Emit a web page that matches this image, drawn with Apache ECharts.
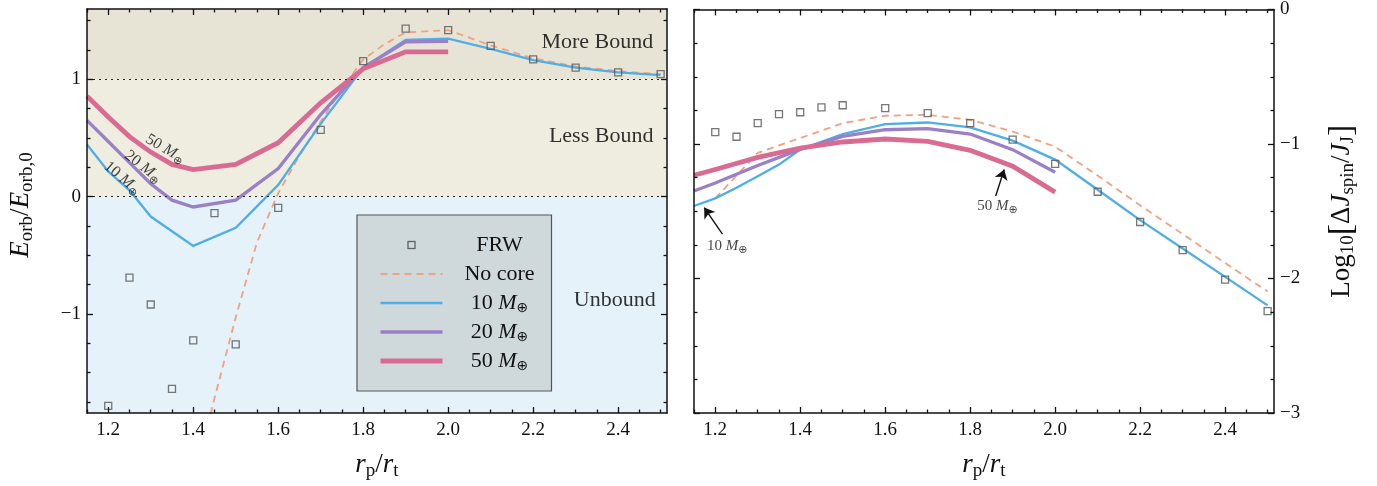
<!DOCTYPE html>
<html><head><meta charset="utf-8">
<script src="https://cdn.jsdelivr.net/npm/echarts@6/dist/echarts.min.js"></script>
<style>html,body{margin:0;padding:0;background:#fff}#c{width:1377px;height:486px}</style>
</head><body><div id="c"></div>
<script>
// ---------------- DATA ----------------
// Left panel: E_orb / E_orb,0
const frwX  = [1.2,1.25,1.3,1.35,1.4,1.45,1.5,1.6,1.7,1.8,1.9,2.0,2.1,2.2,2.3,2.4,2.5];
const frwE  = [-1.785,-0.69,-0.92,-1.64,-1.226,-0.14,-1.26,-0.096,0.57,1.155,1.433,1.42,1.286,1.17,1.10,1.06,1.045];
const noCoreEX = [1.4,1.45,1.5,1.55,1.6,1.65,1.7,1.75,1.8,1.85,1.9,2.0,2.1,2.2,2.3,2.4,2.5];
const noCoreE  = [-2.45,-1.72,-1.03,-0.39,0.03,0.35,0.64,0.92,1.17,1.30,1.40,1.42,1.29,1.18,1.11,1.07,1.045];
const m10EX = [1.15,1.2,1.25,1.3,1.35,1.4,1.5,1.6,1.7,1.8,1.9,2.0,2.1,2.2,2.3,2.4,2.5];
const m10E  = [0.445,0.215,0.054,-0.17,-0.295,-0.42,-0.265,0.10,0.62,1.10,1.336,1.348,1.26,1.165,1.10,1.06,1.037];
const m20EX = [1.15,1.2,1.25,1.3,1.35,1.4,1.5,1.6,1.7,1.8,1.9,2.0];
const m20E  = [0.65,0.47,0.29,0.11,-0.03,-0.088,-0.03,0.24,0.70,1.10,1.32,1.325];
const m50EX = [1.15,1.2,1.25,1.3,1.35,1.4,1.5,1.6,1.7,1.8,1.9,2.0];
const m50E  = [0.857,0.68,0.512,0.38,0.275,0.23,0.275,0.46,0.80,1.09,1.235,1.235];

// Right panel: Log10[dJ_spin / J_J]
const frwJ  = [-0.911,-0.946,-0.845,-0.778,-0.764,-0.727,-0.712,-0.734,-0.771,-0.845,-0.968,-1.148,-1.355,-1.58,-1.789,-2.008,-2.242];
const noCoreJX = [1.2,1.3,1.4,1.5,1.6,1.7,1.8,1.9,2.0,2.1,2.2,2.3,2.4,2.5];
const noCoreJ  = [-1.404,-1.066,-0.956,-0.845,-0.79,-0.783,-0.82,-0.907,-1.02,-1.235,-1.456,-1.67,-1.885,-2.097];
const m10JX = [1.15,1.2,1.25,1.3,1.35,1.4,1.5,1.6,1.7,1.8,1.9,2.0,2.1,2.2,2.3,2.4,2.5];
const m10J  = [-1.461,-1.404,-1.325,-1.24,-1.153,-1.042,-0.926,-0.852,-0.84,-0.877,-0.975,-1.116,-1.34,-1.566,-1.777,-1.988,-2.2];
const m20JX = [1.15,1.2,1.3,1.4,1.5,1.6,1.7,1.8,1.9,2.0];
const m20J  = [-1.35,-1.29,-1.16,-1.04,-0.944,-0.894,-0.885,-0.926,-1.042,-1.21];
const m50JX = [1.15,1.2,1.3,1.4,1.5,1.6,1.7,1.8,1.9,2.0];
const m50J  = [-1.232,-1.19,-1.10,-1.03,-0.985,-0.963,-0.98,-1.047,-1.165,-1.358];

// Ticks
const xMajor = [1.2,1.4,1.6,1.8,2.0,2.2,2.4];
const xMinor = [1.15,1.25,1.3,1.35,1.45,1.5,1.55,1.65,1.7,1.75,1.85,1.9,1.95,2.05,2.1,2.15,2.25,2.3,2.35,2.45,2.5];
const yLMajor = [-1,0,1];
const yLMinor = [-1.75,-1.5,-1.25,-0.75,-0.5,-0.25,0.25,0.5,0.75,1.25,1.5];
const yRMajor = [-3,-2,-1,0];
const yRMinor = [-2.75,-2.5,-2.25,-1.75,-1.5,-1.25,-0.75,-0.5,-0.25];

// Region bands (left panel)
const bandEdges = [-1.845, 0, 1, 1.6];
const regionNames = ['Unbound','Less Bound','More Bound'];
const legendNames = ['FRW','No core','10 M⊕','20 M⊕','50 M⊕'];

// ---------------- STYLE ----------------
const SERIF = "'Liberation Serif','DejaVu Serif',serif";
const SYM = "'DejaVu Sans',sans-serif";
const INK = '#111';
const C = {frw:'#555', nocore:'#f0a181', m10:'#4eaee6', m20:'#9a80c6', m50:'#d96b93'};
const X_MIN = 1.15, X_MAX = 2.515;

function pairs(xs, ys){ return xs.map((x,i)=>[x, ys[i]]); }
function minus(v){ return v < 0 ? '\u2212' + Math.abs(v) : String(v); }

function richSet(main, sub, lh, subLh, extra) {
  extra = extra || {};
  const b = Object.assign({fontFamily: SERIF, color: INK}, extra);
  return {
    n: Object.assign({}, b, {fontSize: main, lineHeight: lh}),
    i: Object.assign({}, b, {fontSize: main, lineHeight: lh, fontStyle: 'italic'}),
    s: Object.assign({}, b, {fontSize: sub, lineHeight: subLh, verticalAlign: 'bottom'}),
    o: Object.assign({}, b, {fontFamily: SYM, fontSize: Math.round(sub*0.95), lineHeight: subLh, verticalAlign: 'bottom'}),
    b: Object.assign({}, b, {fontSize: Math.round(main*1.25), lineHeight: lh})
  };
}

function xAx(grid, pos, values, len, opts) {
  opts = opts || {};
  return Object.assign({
    type: 'value', gridIndex: grid, position: pos, min: X_MIN, max: X_MAX,
    axisLine: {show: !!opts.line, onZero: false, lineStyle: {color: INK, width: 1.5}},
    axisTick: {show: true, inside: true, length: len, customValues: values, lineStyle: {color: INK, width: 1.3}},
    axisLabel: opts.label ? {show: true, customValues: values, formatter: v => v.toFixed(1),
      fontFamily: SERIF, fontSize: 19, color: INK, margin: 8} : {show: false},
    splitLine: {show: false}, z: 5
  }, opts.extra || {});
}
function yAx(grid, pos, min, max, values, len, opts) {
  opts = opts || {};
  return Object.assign({
    type: 'value', gridIndex: grid, position: pos, min: min, max: max,
    axisLine: {show: !!opts.line, onZero: false, lineStyle: {color: INK, width: 1.5}},
    axisTick: {show: true, inside: true, length: len, customValues: values, lineStyle: {color: INK, width: 1.3}},
    axisLabel: opts.label ? {show: true, customValues: values, formatter: v => minus(v),
      fontFamily: SERIF, fontSize: 19, color: INK, margin: 6} : {show: false},
    splitLine: {show: false}, z: 5
  }, opts.extra || {});
}

const nameRich = richSet(27, 19, 32, 16);
const xName = {
  name: '{i|r}{s|p}{n|/}{i|r}{s|t}', nameLocation: 'middle', nameGap: 36,
  nameTextStyle: {rich: nameRich}
};

const xAxes = [
  xAx(0,'bottom',xMajor,6,{line:true,label:true,extra:xName}),
  xAx(0,'bottom',xMinor,3.5),
  xAx(0,'top',xMajor,6,{line:true}),
  xAx(0,'top',xMinor,3.5),
  xAx(1,'bottom',xMajor,6,{line:true,label:true,extra:xName}),
  xAx(1,'bottom',xMinor,3.5),
  xAx(1,'top',xMajor,6,{line:true}),
  xAx(1,'top',xMinor,3.5)
];
const yAxes = [
  yAx(0,'left',bandEdges[0],bandEdges[3],yLMajor,6,{line:true,label:true,extra:{
    name:'{i|E}{s|orb}{n|/}{i|E}{s|orb,0}', nameLocation:'middle', nameRotate:90, nameGap:50,
    nameTextStyle:{rich: nameRich, padding:[0,0,0,12]}}}),
  yAx(0,'left',bandEdges[0],bandEdges[3],yLMinor,3.5),
  yAx(0,'right',bandEdges[0],bandEdges[3],yLMajor,6,{line:true}),
  yAx(0,'right',bandEdges[0],bandEdges[3],yLMinor,3.5),
  yAx(1,'right',-3,0,yRMajor,6,{line:true,label:true,extra:{
    name:'{n|Log}{s|10}{b|[}{n|Δ}{i|J}{s|spin}{n|/}{i|J}{s|J}{b|]}', nameLocation:'middle', nameRotate:90, nameGap:52,
    nameTextStyle:{rich: nameRich}}}),
  yAx(1,'right',-3,0,yRMinor,3.5),
  yAx(1,'left',-3,0,yRMajor,6,{line:true}),
  yAx(1,'left',-3,0,yRMinor,3.5)
];

function lineSeries(name, xs, ys, grid, color, width, dashed) {
  return {
    type: 'line', name: name, xAxisIndex: grid*4, yAxisIndex: grid*4,
    data: pairs(xs, ys), symbol: 'none', clip: true, z: 3, silent: true,
    color: color, itemStyle: {color: color},
    lineStyle: {color: color, width: width, type: dashed ? [7,5] : 'solid', cap: 'butt', join: 'miter'}
  };
}
function frwSeries(grid, ys) {
  return {
    type: 'scatter', name: 'FRW', xAxisIndex: grid*4, yAxisIndex: grid*4,
    data: pairs(frwX, ys), symbol: 'rect', symbolSize: 7, z: 4, silent: true,
    itemStyle: {color: 'rgba(255,255,255,0)', borderColor: C.frw, borderWidth: 1.3}
  };
}

const annRich = richSet(16, 12, 20, 9);
const annRichR = richSet(15, 12, 20, 9);
const regionRich = {r: {fontFamily: SERIF, fontSize: 22, color: '#000'}};

const labelM = n => '{n|' + n + ' }{i|M}{o|⊕}';

const leftAnnotations = [
  {value: [1.334, 0.408], label: {rotate: -30, formatter: labelM(50)}},
  {value: [1.282, 0.255], label: {rotate: -38, formatter: labelM(20)}},
  {value: [1.233, 0.158], label: {rotate: -40, formatter: labelM(10)}}
];
const regionLabels = [
  {value: [2.392, -0.884], label: {formatter: '{r|' + regionNames[0] + '}'}},
  {value: [2.360, 0.518], label: {formatter: '{r|' + regionNames[1] + '}'}},
  {value: [2.351, 1.317], label: {formatter: '{r|' + regionNames[2] + '}'}}
];
const rightAnnotations = [
  {value: [1.228, -1.757], label: {formatter: labelM(10)}},
  {value: [1.864, -1.461], label: {formatter: labelM(50)}}
];
const rightArrows = [
  [{coord: [1.217, -1.67]}, {coord: [1.174, -1.473]}],
  [{coord: [1.860, -1.387]}, {coord: [1.880, -1.19]}]
];

const textSeries = (grid, data, richStyles, extra) => Object.assign({
  type: 'scatter', xAxisIndex: grid*4, yAxisIndex: grid*4, data: data,
  symbolSize: 1, itemStyle: {color: 'rgba(0,0,0,0)'}, silent: true, z: 6,
  label: {show: true, position: 'inside', rich: richStyles}
}, extra || {});

const series = [
  // bands
  {type: 'line', xAxisIndex: 0, yAxisIndex: 0, data: [], z: 1, silent: true,
   markArea: {silent: true, data: [
     [{yAxis: bandEdges[0], itemStyle: {color: '#e6f2f9'}}, {yAxis: bandEdges[1]}],
     [{yAxis: bandEdges[1], itemStyle: {color: '#efece0'}}, {yAxis: bandEdges[2]}],
     [{yAxis: bandEdges[2], itemStyle: {color: '#e8e4d5'}}, {yAxis: bandEdges[3]}]
   ]}},
  textSeries(0, regionLabels, regionRich, {
    markLine: {silent: true, symbol: 'none', label: {show: false},
      lineStyle: {color: '#222', width: 1.2, type: [2,4]},
      data: [{yAxis: bandEdges[1]}, {yAxis: bandEdges[2]}]}}),
  frwSeries(0, frwE),
  lineSeries('No core', noCoreEX, noCoreE, 0, C.nocore, 1.8, true),
  lineSeries('10 M⊕', m10EX, m10E, 0, C.m10, 2.3),
  lineSeries('20 M⊕', m20EX, m20E, 0, C.m20, 3.3),
  lineSeries('50 M⊕', m50EX, m50E, 0, C.m50, 4.8),
  textSeries(0, leftAnnotations, annRich),
  frwSeries(1, frwJ),
  lineSeries('No core', noCoreJX, noCoreJ, 1, C.nocore, 1.8, true),
  lineSeries('10 M⊕', m10JX, m10J, 1, C.m10, 2.3),
  lineSeries('20 M⊕', m20JX, m20J, 1, C.m20, 3.3),
  lineSeries('50 M⊕', m50JX, m50J, 1, C.m50, 4.8),
  textSeries(1, rightAnnotations, annRichR, {
    markLine: {silent: true, symbol: ['none','arrow'], symbolSize: 10, label: {show: false},
      lineStyle: {color: INK, width: 1.4, type: 'solid'},
      itemStyle: {color: INK},
      data: rightArrows}})
];

const frwIcon = 'image://data:image/svg+xml;utf8,' + encodeURIComponent(
  '<svg xmlns="http://www.w3.org/2000/svg" width="62" height="14"><rect x="27.5" y="3.5" width="7" height="7" fill="none" stroke="#444" stroke-width="1.3"/></svg>');

const legendRichBase = richSet(22, 15, 24, 11, {align: 'center'});
const legendRich = {c: legendRichBase.n, ci: legendRichBase.i, cs: legendRichBase.o};
const legendFmt = {
  'FRW': '{c|FRW}', 'No core': '{c|No core}',
  '10 M⊕': '{c|10 }{ci|M}{cs|⊕}', '20 M⊕': '{c|20 }{ci|M}{cs|⊕}', '50 M⊕': '{c|50 }{ci|M}{cs|⊕}'
};
const hideSym = {color: 'rgba(0,0,0,0)', borderWidth: 0, opacity: 0};

const option = {
  animation: false,
  backgroundColor: '#fff',
  grid: [
    {left: 87, top: 9, width: 580, height: 406, containLabel: false},
    {left: 694, top: 9, width: 580, height: 406, containLabel: false}
  ],
  xAxis: xAxes,
  yAxis: yAxes,
  legend: {
    orient: 'vertical', left: 357, top: 215, z: 8,
    selectedMode: false,
    backgroundColor: '#cfd9dc', borderColor: '#555', borderWidth: 1.2, borderRadius: 0,
    padding: [18, 0, 18, 21],
    itemWidth: 62, itemHeight: 14, itemGap: 5,
    formatter: n => legendFmt[n],
    textStyle: {width: 104, rich: legendRich, fontFamily: SERIF, fontSize: 22, lineHeight: 24},
    data: [
      {name: 'FRW', icon: frwIcon},
      {name: 'No core', lineStyle: {width: 2, type: [7,5]}, itemStyle: hideSym},
      {name: '10 M⊕', lineStyle: {width: 2.5}, itemStyle: hideSym},
      {name: '20 M⊕', lineStyle: {width: 3.5}, itemStyle: hideSym},
      {name: '50 M⊕', lineStyle: {width: 5}, itemStyle: hideSym}
    ]
  },
  series: series
};

const chart = echarts.init(document.getElementById('c'), null, {renderer: 'canvas'});
chart.setOption(option);
</script>
</body></html>
